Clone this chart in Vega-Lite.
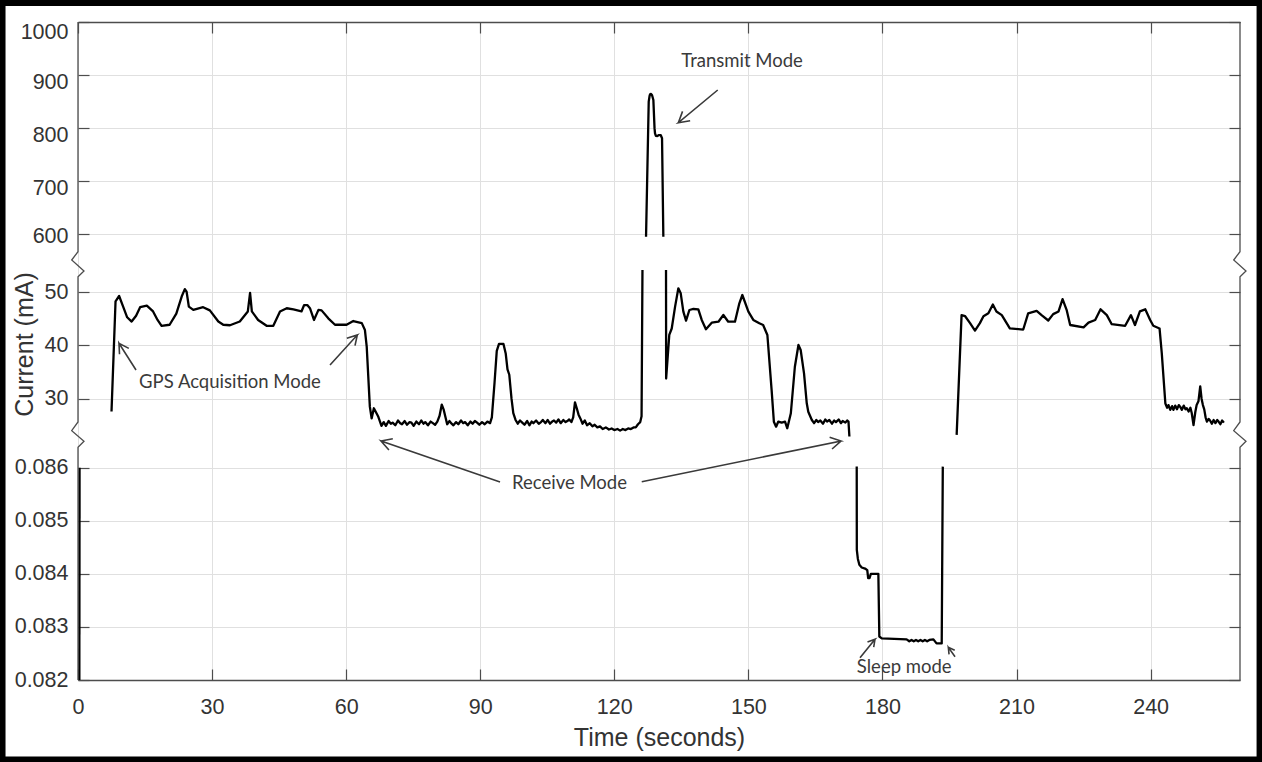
{
  "$schema": "https://vega.github.io/schema/vega-lite/v6.json",
  "width": 1162,
  "height": 658,
  "autosize": {"type": "none"},
  "padding": {"left": 78, "top": 22, "right": 22, "bottom": 82},
  "background": "white",
  "config": {"view": {"stroke": null}},
  "datasets": {
    "current": [
      {"piece": "a", "t": 0.3, "current": 0.082}, {"piece": "a", "t": 0.35, "current": 0.086},
      {"piece": "b", "t": 7.5, "current": 27.6}, {"piece": "b", "t": 8.4, "current": 48.3}, {"piece": "b", "t": 9.2, "current": 49.3}, {"piece": "b", "t": 10.1, "current": 47.3}, {"piece": "b", "t": 11.0, "current": 45.3}, {"piece": "b", "t": 12.0, "current": 44.5}, {"piece": "b", "t": 13.0, "current": 45.6}, {"piece": "b", "t": 13.9, "current": 47.2}, {"piece": "b", "t": 15.4, "current": 47.5}, {"piece": "b", "t": 16.8, "current": 46.4}, {"piece": "b", "t": 17.8, "current": 44.8}, {"piece": "b", "t": 18.7, "current": 43.7}, {"piece": "b", "t": 20.5, "current": 43.9}, {"piece": "b", "t": 22.0, "current": 46.0}, {"piece": "b", "t": 23.2, "current": 49.2}, {"piece": "b", "t": 23.9, "current": 50.6}, {"piece": "b", "t": 24.3, "current": 50.1}, {"piece": "b", "t": 24.8, "current": 47.3}, {"piece": "b", "t": 25.8, "current": 46.7}, {"piece": "b", "t": 28.0, "current": 47.2}, {"piece": "b", "t": 29.5, "current": 46.6}, {"piece": "b", "t": 31.4, "current": 44.5}, {"piece": "b", "t": 32.5, "current": 43.9}, {"piece": "b", "t": 34.0, "current": 43.8}, {"piece": "b", "t": 36.2, "current": 44.5}, {"piece": "b", "t": 38.0, "current": 46.4}, {"piece": "b", "t": 38.5, "current": 49.9}, {"piece": "b", "t": 38.9, "current": 46.4}, {"piece": "b", "t": 40.3, "current": 44.8}, {"piece": "b", "t": 42.2, "current": 43.7}, {"piece": "b", "t": 43.7, "current": 43.7}, {"piece": "b", "t": 45.2, "current": 46.4}, {"piece": "b", "t": 46.7, "current": 47.0}, {"piece": "b", "t": 48.2, "current": 46.8}, {"piece": "b", "t": 50.0, "current": 46.4}, {"piece": "b", "t": 50.6, "current": 47.6}, {"piece": "b", "t": 51.3, "current": 47.6}, {"piece": "b", "t": 51.9, "current": 47.0}, {"piece": "b", "t": 52.8, "current": 44.8}, {"piece": "b", "t": 53.8, "current": 46.7}, {"piece": "b", "t": 54.5, "current": 46.6}, {"piece": "b", "t": 56.0, "current": 45.1}, {"piece": "b", "t": 57.5, "current": 43.9}, {"piece": "b", "t": 60.1, "current": 43.9}, {"piece": "b", "t": 61.6, "current": 44.6}, {"piece": "b", "t": 63.5, "current": 44.2}, {"piece": "b", "t": 64.2, "current": 42.9}, {"piece": "b", "t": 64.6, "current": 39.8}, {"piece": "b", "t": 65.3, "current": 28.5}, {"piece": "b", "t": 65.7, "current": 26.3}, {"piece": "b", "t": 66.2, "current": 28.2}, {"piece": "b", "t": 66.7, "current": 27.4}, {"piece": "b", "t": 67.2, "current": 26.6}, {"piece": "b", "t": 67.9, "current": 24.9},
      {"piece": "b", "t": 68.4, "current": 25.6}, {"piece": "b", "t": 68.9, "current": 24.9}, {"piece": "b", "t": 69.5, "current": 25.8}, {"piece": "b", "t": 70.0, "current": 25.3}, {"piece": "b", "t": 70.4, "current": 25.5}, {"piece": "b", "t": 71.0, "current": 25.0}, {"piece": "b", "t": 71.6, "current": 25.9}, {"piece": "b", "t": 72.1, "current": 25.4}, {"piece": "b", "t": 72.5, "current": 25.2}, {"piece": "b", "t": 73.1, "current": 25.8}, {"piece": "b", "t": 73.6, "current": 25.1}, {"piece": "b", "t": 74.2, "current": 25.6}, {"piece": "b", "t": 74.6, "current": 25.5}, {"piece": "b", "t": 75.1, "current": 24.9}, {"piece": "b", "t": 75.7, "current": 25.7}, {"piece": "b", "t": 76.3, "current": 25.2}, {"piece": "b", "t": 76.8, "current": 25.9}, {"piece": "b", "t": 77.3, "current": 25.3}, {"piece": "b", "t": 77.7, "current": 25.6}, {"piece": "b", "t": 78.3, "current": 25.0}, {"piece": "b", "t": 78.9, "current": 25.7}, {"piece": "b", "t": 79.4, "current": 25.4}, {"piece": "b", "t": 79.9, "current": 25.1}, {"piece": "b", "t": 80.4, "current": 25.7}, {"piece": "b", "t": 80.9, "current": 26.8}, {"piece": "b", "t": 81.4, "current": 28.9}, {"piece": "b", "t": 81.8, "current": 28.0}, {"piece": "b", "t": 82.2, "current": 26.6}, {"piece": "b", "t": 82.6, "current": 25.2}, {"piece": "b", "t": 83.1, "current": 25.8}, {"piece": "b", "t": 83.6, "current": 25.3}, {"piece": "b", "t": 84.0, "current": 25.0}, {"piece": "b", "t": 84.6, "current": 25.6}, {"piece": "b", "t": 85.1, "current": 25.2}, {"piece": "b", "t": 85.7, "current": 25.9}, {"piece": "b", "t": 86.2, "current": 25.4}, {"piece": "b", "t": 86.6, "current": 25.6}, {"piece": "b", "t": 87.2, "current": 25.0}, {"piece": "b", "t": 87.8, "current": 25.7}, {"piece": "b", "t": 88.3, "current": 25.3}, {"piece": "b", "t": 88.8, "current": 25.8}, {"piece": "b", "t": 89.3, "current": 25.5}, {"piece": "b", "t": 89.8, "current": 25.1}, {"piece": "b", "t": 90.4, "current": 25.6}, {"piece": "b", "t": 91.0, "current": 25.2}, {"piece": "b", "t": 91.6, "current": 25.7}, {"piece": "b", "t": 92.2, "current": 25.4},
      {"piece": "b", "t": 92.6, "current": 26.5}, {"piece": "b", "t": 93.2, "current": 33.0}, {"piece": "b", "t": 93.7, "current": 39.0}, {"piece": "b", "t": 94.2, "current": 40.3}, {"piece": "b", "t": 95.2, "current": 40.3}, {"piece": "b", "t": 95.7, "current": 38.5}, {"piece": "b", "t": 96.1, "current": 35.5}, {"piece": "b", "t": 96.5, "current": 34.5}, {"piece": "b", "t": 97.0, "current": 30.0}, {"piece": "b", "t": 97.4, "current": 27.3}, {"piece": "b", "t": 97.9, "current": 26.0},
      {"piece": "b", "t": 98.4, "current": 25.3}, {"piece": "b", "t": 98.9, "current": 25.9}, {"piece": "b", "t": 99.4, "current": 25.5}, {"piece": "b", "t": 99.9, "current": 25.1}, {"piece": "b", "t": 100.5, "current": 25.8}, {"piece": "b", "t": 101.0, "current": 25.0}, {"piece": "b", "t": 101.5, "current": 25.7}, {"piece": "b", "t": 101.9, "current": 25.4}, {"piece": "b", "t": 102.5, "current": 25.9}, {"piece": "b", "t": 103.1, "current": 25.3}, {"piece": "b", "t": 103.6, "current": 25.6}, {"piece": "b", "t": 104.0, "current": 26.0}, {"piece": "b", "t": 104.6, "current": 25.4}, {"piece": "b", "t": 105.1, "current": 26.0}, {"piece": "b", "t": 105.6, "current": 25.3}, {"piece": "b", "t": 106.1, "current": 25.7}, {"piece": "b", "t": 106.5, "current": 25.9}, {"piece": "b", "t": 107.0, "current": 25.5}, {"piece": "b", "t": 107.5, "current": 26.1}, {"piece": "b", "t": 108.0, "current": 25.4}, {"piece": "b", "t": 108.6, "current": 26.0}, {"piece": "b", "t": 109.1, "current": 25.6}, {"piece": "b", "t": 109.5, "current": 25.8}, {"piece": "b", "t": 109.9, "current": 26.1}, {"piece": "b", "t": 110.4, "current": 25.6},
      {"piece": "b", "t": 110.8, "current": 26.5}, {"piece": "b", "t": 111.2, "current": 29.3}, {"piece": "b", "t": 111.6, "current": 28.2}, {"piece": "b", "t": 112.0, "current": 27.0}, {"piece": "b", "t": 112.4, "current": 26.3},
      {"piece": "b", "t": 112.9, "current": 25.3}, {"piece": "b", "t": 113.4, "current": 25.9}, {"piece": "b", "t": 113.9, "current": 25.0}, {"piece": "b", "t": 114.5, "current": 25.4}, {"piece": "b", "t": 115.1, "current": 24.8}, {"piece": "b", "t": 115.6, "current": 25.1}, {"piece": "b", "t": 116.2, "current": 24.6}, {"piece": "b", "t": 116.8, "current": 24.8}, {"piece": "b", "t": 117.4, "current": 24.3}, {"piece": "b", "t": 118.1, "current": 24.6}, {"piece": "b", "t": 118.8, "current": 24.2}, {"piece": "b", "t": 119.4, "current": 24.4}, {"piece": "b", "t": 120.0, "current": 24.1}, {"piece": "b", "t": 120.7, "current": 24.3}, {"piece": "b", "t": 121.3, "current": 24.0}, {"piece": "b", "t": 121.9, "current": 24.3}, {"piece": "b", "t": 122.5, "current": 24.1}, {"piece": "b", "t": 123.1, "current": 24.4}, {"piece": "b", "t": 123.7, "current": 24.3}, {"piece": "b", "t": 124.3, "current": 24.6}, {"piece": "b", "t": 124.8, "current": 24.6}, {"piece": "b", "t": 125.3, "current": 25.2}, {"piece": "b", "t": 125.8, "current": 25.6}, {"piece": "b", "t": 126.1, "current": 26.7}, {"piece": "b", "t": 126.3, "current": 54.2},
      {"piece": "c", "t": 127.10, "current": 595.5}, {"piece": "c", "t": 127.70, "current": 850}, {"piece": "c", "t": 127.90, "current": 861}, {"piece": "c", "t": 128.00, "current": 863.8}, {"piece": "c", "t": 128.22, "current": 864.5}, {"piece": "c", "t": 128.45, "current": 862}, {"piece": "c", "t": 128.74, "current": 853}, {"piece": "c", "t": 129.00, "current": 800}, {"piece": "c", "t": 129.11, "current": 790}, {"piece": "c", "t": 129.30, "current": 785.5}, {"piece": "c", "t": 129.63, "current": 785.2}, {"piece": "c", "t": 130.00, "current": 787}, {"piece": "c", "t": 130.38, "current": 787}, {"piece": "c", "t": 130.68, "current": 781}, {"piece": "c", "t": 130.97, "current": 595.5},
      {"piece": "d", "t": 131.57, "current": 54.2}, {"piece": "d", "t": 131.6, "current": 33.8}, {"piece": "d", "t": 132.3, "current": 42.0}, {"piece": "d", "t": 132.85, "current": 43.2}, {"piece": "d", "t": 133.6, "current": 47.3}, {"piece": "d", "t": 134.33, "current": 50.75}, {"piece": "d", "t": 134.86, "current": 49.8}, {"piece": "d", "t": 135.45, "current": 46.35}, {"piece": "d", "t": 136.05, "current": 44.66}, {"piece": "d", "t": 136.8, "current": 46.67}, {"piece": "d", "t": 137.7, "current": 46.86}, {"piece": "d", "t": 138.8, "current": 46.8}, {"piece": "d", "t": 139.56, "current": 44.8}, {"piece": "d", "t": 140.5, "current": 43.05}, {"piece": "d", "t": 141.8, "current": 44.29}, {"piece": "d", "t": 143.3, "current": 44.47}, {"piece": "d", "t": 144.4, "current": 45.73}, {"piece": "d", "t": 145.5, "current": 44.47}, {"piece": "d", "t": 147.0, "current": 44.47}, {"piece": "d", "t": 147.98, "current": 47.93}, {"piece": "d", "t": 148.65, "current": 49.49}, {"piece": "d", "t": 150.0, "current": 46.35}, {"piece": "d", "t": 151.1, "current": 44.8}, {"piece": "d", "t": 152.45, "current": 44.17}, {"piece": "d", "t": 153.3, "current": 43.85}, {"piece": "d", "t": 154.25, "current": 41.97}, {"piece": "d", "t": 155.2, "current": 31.6}, {"piece": "d", "t": 155.7, "current": 25.68}, {"piece": "d", "t": 156.2, "current": 24.74}, {"piece": "d", "t": 156.7, "current": 25.7}, {"piece": "d", "t": 157.45, "current": 25.49}, {"piece": "d", "t": 158.2, "current": 25.68}, {"piece": "d", "t": 158.7, "current": 24.44}, {"piece": "d", "t": 159.5, "current": 27.26}, {"piece": "d", "t": 160.4, "current": 36.0}, {"piece": "d", "t": 161.2, "current": 40.09}, {"piece": "d", "t": 161.7, "current": 39.15}, {"piece": "d", "t": 162.45, "current": 34.77}, {"piece": "d", "t": 163.06, "current": 29.13}, {"piece": "d", "t": 163.4, "current": 27.56}, {"piece": "d", "t": 164.2, "current": 26.0}, {"piece": "d", "t": 164.7, "current": 25.4}, {"piece": "d", "t": 165.2, "current": 26.0}, {"piece": "d", "t": 165.6, "current": 25.6}, {"piece": "d", "t": 166.1, "current": 25.9}, {"piece": "d", "t": 166.7, "current": 25.3}, {"piece": "d", "t": 167.2, "current": 26.1}, {"piece": "d", "t": 167.6, "current": 25.7}, {"piece": "d", "t": 168.1, "current": 26.0}, {"piece": "d", "t": 168.7, "current": 25.3}, {"piece": "d", "t": 169.2, "current": 25.9}, {"piece": "d", "t": 169.6, "current": 25.6}, {"piece": "d", "t": 170.2, "current": 26.1}, {"piece": "d", "t": 170.7, "current": 25.4}, {"piece": "d", "t": 171.1, "current": 25.8}, {"piece": "d", "t": 171.7, "current": 25.5}, {"piece": "d", "t": 172.1, "current": 25.9}, {"piece": "d", "t": 172.4, "current": 25.7}, {"piece": "d", "t": 172.6, "current": 22.9},
      {"piece": "e", "t": 174.24, "current": 0.08602}, {"piece": "e", "t": 174.26, "current": 0.08445}, {"piece": "e", "t": 174.5, "current": 0.08428}, {"piece": "e", "t": 174.83, "current": 0.08417}, {"piece": "e", "t": 175.36, "current": 0.08412}, {"piece": "e", "t": 176.1, "current": 0.0841}, {"piece": "e", "t": 176.6, "current": 0.08407}, {"piece": "e", "t": 176.8, "current": 0.08392}, {"piece": "e", "t": 177.1, "current": 0.08392}, {"piece": "e", "t": 177.4, "current": 0.084}, {"piece": "e", "t": 179.08, "current": 0.084}, {"piece": "e", "t": 179.3, "current": 0.08282}, {"piece": "e", "t": 179.84, "current": 0.082785}, {"piece": "e", "t": 185.4, "current": 0.082766}, {"piece": "e", "t": 186.0, "current": 0.08273}, {"piece": "e", "t": 186.5, "current": 0.082755}, {"piece": "e", "t": 187.0, "current": 0.08273}, {"piece": "e", "t": 187.5, "current": 0.082755}, {"piece": "e", "t": 188.0, "current": 0.08273}, {"piece": "e", "t": 188.5, "current": 0.082755}, {"piece": "e", "t": 189.0, "current": 0.08273}, {"piece": "e", "t": 189.5, "current": 0.082755}, {"piece": "e", "t": 190.0, "current": 0.08273}, {"piece": "e", "t": 190.5, "current": 0.082755}, {"piece": "e", "t": 191.4, "current": 0.082766}, {"piece": "e", "t": 192.1, "current": 0.08269}, {"piece": "e", "t": 193.26, "current": 0.08269}, {"piece": "e", "t": 193.5, "current": 0.08602},
      {"piece": "f", "t": 196.6, "current": 23.2}, {"piece": "f", "t": 197.7, "current": 45.7}, {"piece": "f", "t": 198.5, "current": 45.5}, {"piece": "f", "t": 199.6, "current": 44.2}, {"piece": "f", "t": 200.7, "current": 42.8}, {"piece": "f", "t": 201.8, "current": 44.2}, {"piece": "f", "t": 202.6, "current": 45.5}, {"piece": "f", "t": 203.7, "current": 46.05}, {"piece": "f", "t": 204.7, "current": 47.7}, {"piece": "f", "t": 205.5, "current": 46.4}, {"piece": "f", "t": 206.7, "current": 45.7}, {"piece": "f", "t": 208.5, "current": 43.2}, {"piece": "f", "t": 211.5, "current": 43.0}, {"piece": "f", "t": 212.6, "current": 46.05}, {"piece": "f", "t": 214.5, "current": 46.5}, {"piece": "f", "t": 215.6, "current": 45.7}, {"piece": "f", "t": 217.1, "current": 44.7}, {"piece": "f", "t": 218.2, "current": 45.9}, {"piece": "f", "t": 219.4, "current": 46.4}, {"piece": "f", "t": 220.3, "current": 48.7}, {"piece": "f", "t": 221.2, "current": 46.7}, {"piece": "f", "t": 222.0, "current": 43.85}, {"piece": "f", "t": 225.0, "current": 43.4}, {"piece": "f", "t": 226.1, "current": 44.3}, {"piece": "f", "t": 227.6, "current": 44.8}, {"piece": "f", "t": 228.8, "current": 46.8}, {"piece": "f", "t": 230.2, "current": 45.7}, {"piece": "f", "t": 231.3, "current": 44.0}, {"piece": "f", "t": 234.3, "current": 43.7}, {"piece": "f", "t": 235.6, "current": 45.7}, {"piece": "f", "t": 236.5, "current": 43.85}, {"piece": "f", "t": 237.6, "current": 46.4}, {"piece": "f", "t": 238.8, "current": 46.8}, {"piece": "f", "t": 239.9, "current": 44.8}, {"piece": "f", "t": 240.6, "current": 43.7}, {"piece": "f", "t": 242.0, "current": 43.2}, {"piece": "f", "t": 242.5, "current": 38.5}, {"piece": "f", "t": 243.3, "current": 29.1}, {"piece": "f", "t": 243.7, "current": 28.3}, {"piece": "f", "t": 244.0, "current": 28.8}, {"piece": "f", "t": 244.4, "current": 27.9}, {"piece": "f", "t": 244.8, "current": 28.6}, {"piece": "f", "t": 245.1, "current": 27.9}, {"piece": "f", "t": 245.5, "current": 28.7}, {"piece": "f", "t": 245.9, "current": 28.0}, {"piece": "f", "t": 246.3, "current": 28.8}, {"piece": "f", "t": 246.6, "current": 28.5}, {"piece": "f", "t": 247.0, "current": 27.9}, {"piece": "f", "t": 247.4, "current": 28.7}, {"piece": "f", "t": 247.8, "current": 28.0}, {"piece": "f", "t": 248.1, "current": 28.2}, {"piece": "f", "t": 248.5, "current": 27.6}, {"piece": "f", "t": 248.9, "current": 28.3}, {"piece": "f", "t": 249.2, "current": 27.3}, {"piece": "f", "t": 249.6, "current": 25.05}, {"piece": "f", "t": 250.0, "current": 27.5}, {"piece": "f", "t": 250.3, "current": 28.8}, {"piece": "f", "t": 250.7, "current": 29.5}, {"piece": "f", "t": 251.1, "current": 32.3}, {"piece": "f", "t": 251.4, "current": 30.0}, {"piece": "f", "t": 251.7, "current": 28.8}, {"piece": "f", "t": 252.0, "current": 28.0}, {"piece": "f", "t": 252.3, "current": 26.5}, {"piece": "f", "t": 252.6, "current": 25.7}, {"piece": "f", "t": 253.0, "current": 26.2}, {"piece": "f", "t": 253.3, "current": 25.9}, {"piece": "f", "t": 253.7, "current": 25.3}, {"piece": "f", "t": 254.1, "current": 26.0}, {"piece": "f", "t": 254.5, "current": 25.4}, {"piece": "f", "t": 254.9, "current": 26.0}, {"piece": "f", "t": 255.2, "current": 25.7}, {"piece": "f", "t": 255.6, "current": 25.2}, {"piece": "f", "t": 256.0, "current": 25.9}, {"piece": "f", "t": 256.4, "current": 25.5}
    ],
    "frame": [
      {"side": "left", "k": 0, "t": 0, "current": 0.082}, {"side": "left", "k": 1, "t": 0, "current": 0.086384}, {"side": "left", "k": 2, "t": 1.34, "current": 0.086497}, {"side": "left", "k": 3, "t": -1.41, "current": 23.98}, {"side": "left", "k": 4, "t": 0, "current": 25.62}, {"side": "left", "k": 5, "t": 0, "current": 52.93}, {"side": "left", "k": 6, "t": 1.34, "current": 54.0}, {"side": "left", "k": 7, "t": -1.41, "current": 551.6}, {"side": "left", "k": 8, "t": 0, "current": 567.3}, {"side": "left", "k": 9, "t": 0, "current": 1000},
      {"side": "right", "k": 0, "t": 260, "current": 0.082}, {"side": "right", "k": 1, "t": 260, "current": 0.086384}, {"side": "right", "k": 2, "t": 261.34, "current": 0.086497}, {"side": "right", "k": 3, "t": 258.59, "current": 23.98}, {"side": "right", "k": 4, "t": 260, "current": 25.62}, {"side": "right", "k": 5, "t": 260, "current": 52.93}, {"side": "right", "k": 6, "t": 261.34, "current": 54.0}, {"side": "right", "k": 7, "t": 258.59, "current": 551.6}, {"side": "right", "k": 8, "t": 260, "current": 567.3}, {"side": "right", "k": 9, "t": 260, "current": 1000}
    ],
    "arrows": [
      {"arrow": "tx", "k": 0, "t": 143.14, "current": 871.9}, {"arrow": "tx", "k": 1, "t": 134.33, "current": 810.3}, {"arrow": "tx", "k": 2, "t": 136.97, "current": 814.1}, {"arrow": "tx", "k": 3, "t": 134.33, "current": 810.3}, {"arrow": "tx", "k": 4, "t": 135.27, "current": 831.6},
      {"arrow": "gps1", "k": 0, "t": 12.98, "current": 35.39}, {"arrow": "gps1", "k": 1, "t": 9.17, "current": 40.41}, {"arrow": "gps1", "k": 2, "t": 9.29, "current": 38.35}, {"arrow": "gps1", "k": 3, "t": 9.17, "current": 40.41}, {"arrow": "gps1", "k": 4, "t": 11.37, "current": 39.45},
      {"arrow": "gps2", "k": 0, "t": 56.39, "current": 36.33}, {"arrow": "gps2", "k": 1, "t": 62.5, "current": 41.97}, {"arrow": "gps2", "k": 2, "t": 60.15, "current": 41.35}, {"arrow": "gps2", "k": 3, "t": 62.5, "current": 41.97}, {"arrow": "gps2", "k": 4, "t": 61.98, "current": 39.96},
      {"arrow": "rx1", "k": 0, "t": 94.43, "current": 0.0857302}, {"arrow": "rx1", "k": 1, "t": 67.8, "current": 0.0865026}, {"arrow": "rx1", "k": 2, "t": 69.57, "current": 0.0863312}, {"arrow": "rx1", "k": 3, "t": 67.8, "current": 0.0865026}, {"arrow": "rx1", "k": 4, "t": 70.44, "current": 0.0865459},
      {"arrow": "rx2", "k": 0, "t": 126.14, "current": 0.0857358}, {"arrow": "rx2", "k": 1, "t": 170.73, "current": 0.0865026}, {"arrow": "rx2", "k": 2, "t": 168.18, "current": 0.0865742}, {"arrow": "rx2", "k": 3, "t": 170.73, "current": 0.0865026}, {"arrow": "rx2", "k": 4, "t": 168.72, "current": 0.0863519},
      {"arrow": "sl1", "k": 0, "t": 174.98, "current": 0.0824201}, {"arrow": "sl1", "k": 1, "t": 178.33, "current": 0.0827668}, {"arrow": "sl1", "k": 2, "t": 176.65, "current": 0.082714}, {"arrow": "sl1", "k": 3, "t": 178.33, "current": 0.0827668}, {"arrow": "sl1", "k": 4, "t": 178.04, "current": 0.0826179},
      {"arrow": "sl2", "k": 0, "t": 196.24, "current": 0.082439}, {"arrow": "sl2", "k": 1, "t": 194.74, "current": 0.082616}, {"arrow": "sl2", "k": 2, "t": 194.9, "current": 0.0824842}, {"arrow": "sl2", "k": 3, "t": 194.74, "current": 0.082616}, {"arrow": "sl2", "k": 4, "t": 196.17, "current": 0.0825614}
    ],
    "notes": [
      {"label": "Transmit Mode", "t": 148.58, "current": 925.6},
      {"label": "GPS Acquisition Mode", "t": 34.01, "current": 33.2},
      {"label": "Receive Mode", "t": 109.98, "current": 0.0857057},
      {"label": "Sleep mode", "t": 184.87, "current": 0.0822393}
    ]
  },
  "resolve": {"axis": {"x": "independent", "y": "independent"}},
  "layer": [
    {
      "data": {"name": "current"},
      "mark": {"type": "line", "color": "black", "strokeWidth": 2.3, "clip": true, "strokeJoin": "round"},
      "encoding": {
        "x": {"field": "t", "type": "quantitative",
          "scale": {"domain": [0, 260], "nice": false, "zero": false},
          "axis": {"orient": "bottom", "values": [0, 30, 60, 90, 120, 150, 180, 210, 240], "format": "d", "labelFlush": false,
            "title": "Time (seconds)", "titleFont": "Liberation Sans", "titleFontSize": 25, "titleFontWeight": "normal", "titleColor": "#333333",
            "titleBaseline": "alphabetic", "titleY": 65, "titleAnchor": "middle",
            "labelFont": "Liberation Sans", "labelFontSize": 21.5, "labelColor": "#333333", "labelBaseline": "alphabetic", "labelPadding": 44,
            "tickSize": -11, "tickColor": "#4d4d4d", "tickWidth": 1.2,
            "domainColor": "#4d4d4d", "domainWidth": 1.3,
            "grid": true, "gridColor": "#e0e0e0", "gridWidth": 1}},
        "y": {"field": "current", "type": "quantitative",
          "scale": {"domain": [0.082, 0.086578, 22.8, 54.94, 540.3, 1000], "range": [658, 415, 415, 244, 244, 0], "nice": false, "zero": false},
          "axis": {"orient": "left", "values": [0.082, 0.083, 0.084, 0.085, 0.086, 30, 40, 50, 600, 700, 800, 900, 1000], "labelFlush": false,
            "labelExpr": "datum.value < 1 ? format(datum.value, '.3f') : format(datum.value, 'd')",
            "labelOffset": {"condition": [{"test": "datum.value >= 1000", "value": 10}, {"test": "datum.value >= 700", "value": 7.5}, {"test": "datum.value >= 600", "value": 2.5}], "value": 0},
            "title": "Current (mA)", "titleFont": "Liberation Sans", "titleFontSize": 25, "titleFontWeight": "normal", "titleColor": "#333333",
            "titleAngle": -90, "titleX": -46, "titleY": 322, "titleAlign": "center", "titleBaseline": "alphabetic",
            "labelFont": "Liberation Sans", "labelFontSize": 21.5, "labelColor": "#333333", "labelPadding": 21,
            "tickSize": -11, "tickColor": "#4d4d4d", "tickWidth": 1.2,
            "domain": false,
            "grid": true, "gridColor": "#e0e0e0", "gridWidth": 1}},
        "detail": {"field": "piece", "type": "nominal"}
      }
    },
    {
      "data": {"name": "frame"},
      "mark": {"type": "line", "color": "#4d4d4d", "strokeWidth": 1.3, "clip": false},
      "encoding": {
        "x": {"field": "t", "type": "quantitative",
          "scale": {"domain": [0, 260], "nice": false, "zero": false},
          "axis": {"orient": "top", "values": [0, 30, 60, 90, 120, 150, 180, 210, 240], "labels": false, "title": null,
            "tickSize": -11, "tickColor": "#4d4d4d", "tickWidth": 1.2, "domainColor": "#4d4d4d", "domainWidth": 1.3, "grid": false}},
        "y": {"field": "current", "type": "quantitative",
          "scale": {"domain": [0.082, 0.086578, 22.8, 54.94, 540.3, 1000], "range": [658, 415, 415, 244, 244, 0], "nice": false, "zero": false},
          "axis": {"orient": "right", "values": [0.082, 0.083, 0.084, 0.085, 0.086, 30, 40, 50, 600, 700, 800, 900, 1000], "labels": false, "title": null,
            "tickSize": -11, "tickColor": "#4d4d4d", "tickWidth": 1.2, "domain": false, "grid": false}},
        "detail": {"field": "side", "type": "nominal"},
        "order": {"field": "k", "type": "quantitative"}
      }
    },
    {
      "data": {"name": "arrows"},
      "mark": {"type": "line", "color": "#3a3a3a", "strokeWidth": 1.6, "clip": false},
      "encoding": {
        "x": {"field": "t", "type": "quantitative", "scale": {"domain": [0, 260], "nice": false, "zero": false}, "axis": null},
        "y": {"field": "current", "type": "quantitative",
          "scale": {"domain": [0.082, 0.086578, 22.8, 54.94, 540.3, 1000], "range": [658, 415, 415, 244, 244, 0], "nice": false, "zero": false}, "axis": null},
        "detail": {"field": "arrow", "type": "nominal"},
        "order": {"field": "k", "type": "quantitative"}
      }
    },
    {
      "data": {"name": "notes"},
      "mark": {"type": "text", "font": "Lato", "fontSize": 18.5, "color": "#3a3a3a", "align": "center", "baseline": "middle"},
      "encoding": {
        "x": {"field": "t", "type": "quantitative", "scale": {"domain": [0, 260], "nice": false, "zero": false}, "axis": null},
        "y": {"field": "current", "type": "quantitative",
          "scale": {"domain": [0.082, 0.086578, 22.8, 54.94, 540.3, 1000], "range": [658, 415, 415, 244, 244, 0], "nice": false, "zero": false}, "axis": null},
        "text": {"field": "label", "type": "nominal"}
      }
    },
    {
      "data": {"values": [{}]},
      "mark": {"type": "rect", "filled": false, "stroke": "black", "strokeWidth": 7, "clip": false},
      "encoding": {
        "x": {"datum": -17.0, "type": "quantitative", "scale": {"domain": [0, 260], "nice": false, "zero": false}, "axis": null},
        "x2": {"datum": 264.49},
        "y": {"datum": 1036.74, "type": "quantitative",
          "scale": {"domain": [0.082, 0.086578, 22.8, 54.94, 540.3, 1000], "range": [658, 415, 415, 244, 244, 0], "nice": false, "zero": false}, "axis": null},
        "y2": {"datum": 0.0804928}
      }
    }
  ]
}
